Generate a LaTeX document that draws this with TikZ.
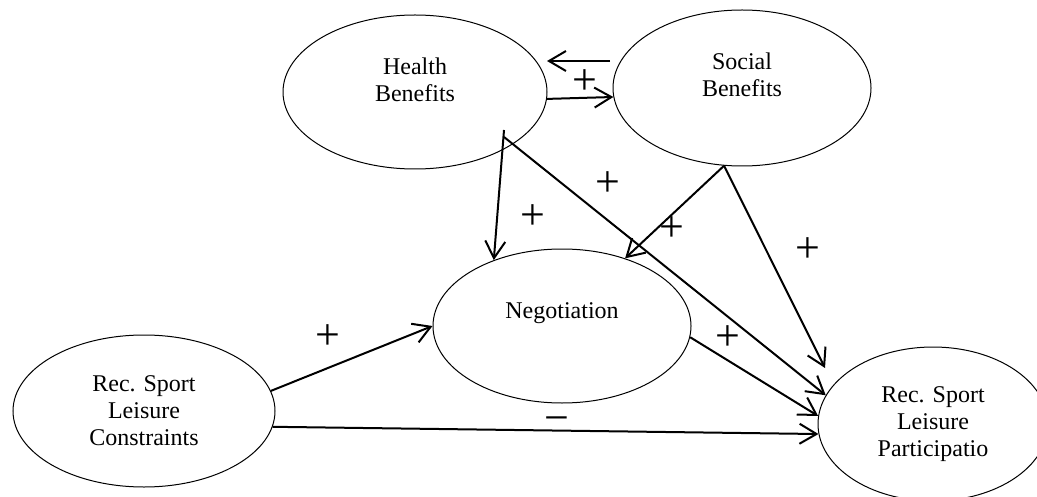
\documentclass[tikz,border=0pt]{standalone}
\usepackage{fontspec}
\setmainfont{Liberation Serif}
\usetikzlibrary{arrows.meta,shapes.geometric,calc}
\tikzstyle{construct}=[draw, ellipse, line width=.5pt, inner sep=0pt]
\tikzstyle{caption}=[align=center, font=\fontsize{12}{13.5}\selectfont]
\tikzstyle{effect}=[line width=1pt, -{Straight Barb[length=8.5pt,width=10pt]}]
\tikzstyle{sign}=[font=\fontsize{22}{22}\selectfont, inner sep=0pt]
\begin{document}
\begin{tikzpicture}[x=.5pt, y=-.5pt]
%
\useasboundingbox (0,0) rectangle (1037,497);
	\node[construct, minimum width=132pt, minimum height=77pt, label={[caption, yshift=6pt]center:{Health\\Benefits}}] (hb) at (415,92) {};
	\node[construct, minimum width=129pt, minimum height=78pt, label={[caption, yshift=6.5pt]center:{Social\\Benefits}}] (sb) at (742,88) {};
	\node[construct, minimum width=129pt, minimum height=77pt, label={[caption, yshift=6.5pt]center:{Negotiation}}] (neg) at (562,326) {};
	\node[construct, minimum width=131pt, minimum height=76pt, label={[caption]center:{Rec. Sport\\Leisure\\Constraints}}] (con) at (144,411) {};
	\node[construct, minimum width=115pt, minimum height=77pt, label={[caption]center:{Rec. Sport\\Leisure\\Participatio}}] (par) at (933,424) {};
%
	\coordinate (sbtail) at (610,61);
	\coordinate (hbtip) at (547,61);
	\coordinate (hbdown) at (504,130);
	\coordinate (hbright) at (504,137);
	\coordinate (partop) at (825,368);
%
	\draw[effect] (sbtail) -- (hbtip);
	\draw[effect] (hb.-3) -- (sb.184);
	\draw[effect] (hbdown) -- (neg.136);
	\draw[effect] (hbright) -- (par.165);
	\draw[effect] (sb.-103) -- (neg.47);
	\draw[effect] (sb.-103) -- (partop);
	\draw[effect] (neg.-5) -- (par.176);
	\draw[effect] (con.9) -- (neg.180);
	\draw[effect] (con.-7) -- (par.185);
%
	\node[sign] (p1) at (585,82) {+};
	\node[sign] (p2) at (608,184) {+};
	\node[sign] (p3) at (533,217) {+};
	\node[sign] (p4) at (672,229) {+};
	\node[sign] (p5) at (808,250) {+};
	\node[sign] (p6) at (328,337) {+};
	\node[sign] (p7) at (728,338) {+};
	\node[sign] (m1) at (557,425) {−};
\end{tikzpicture}
\end{document}
